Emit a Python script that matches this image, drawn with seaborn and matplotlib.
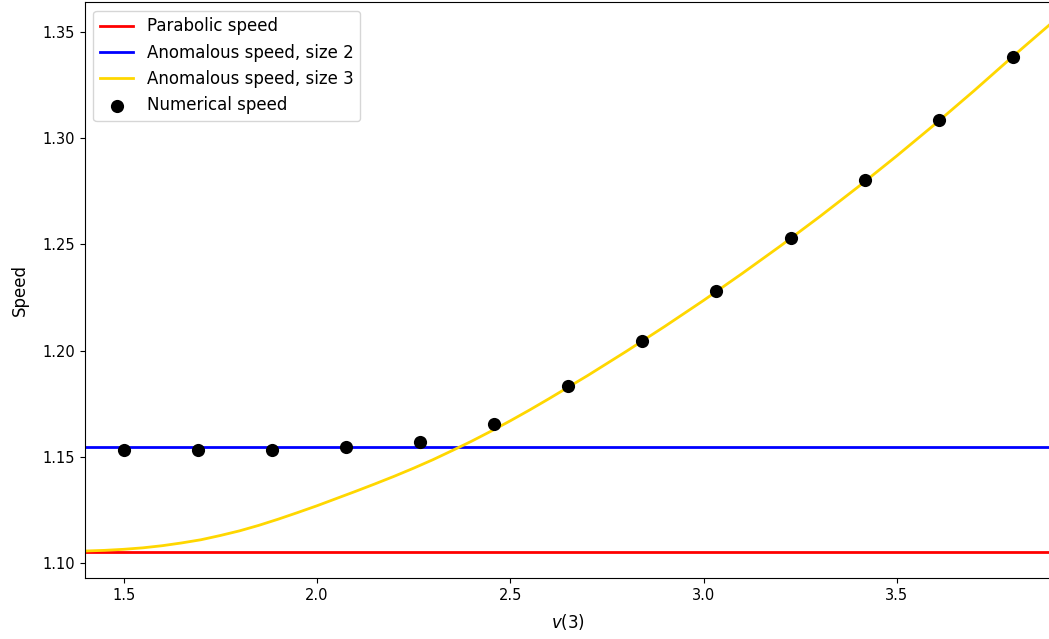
import numpy as np
import matplotlib
matplotlib.use('Agg')
import matplotlib.pyplot as plt
import seaborn as sns

# values
parabolic_speed = 1.1050
anomalous_speed_2 = 1.1547

# anomalous speed, size 3 (curve)
v3_curve = [1.40, 1.45, 1.50, 1.55, 1.60, 1.65, 1.70, 1.75, 1.80, 1.85, 1.90, 1.95,
            2.00, 2.05, 2.10, 2.15, 2.20, 2.25, 2.30, 2.35, 2.40, 2.45, 2.50, 2.55,
            2.60, 2.70, 2.80, 2.90, 3.00, 3.10, 3.20, 3.30, 3.40, 3.50, 3.60, 3.70,
            3.80, 3.90]
speed_curve = [1.1056, 1.1059, 1.1064, 1.1071, 1.1081, 1.1094, 1.1109, 1.1129, 1.1151,
               1.1177, 1.1206, 1.1237, 1.1269, 1.1303, 1.1337, 1.1372, 1.1408, 1.1446,
               1.1486, 1.1529, 1.1573, 1.1620, 1.1669, 1.1720, 1.1773, 1.1882, 1.1996,
               1.2114, 1.2236, 1.2363, 1.2494, 1.2630, 1.2771, 1.2917, 1.3068, 1.3224,
               1.3385, 1.3542]

# numerical speed points
v3_num = [1.500, 1.692, 1.883, 2.075, 2.267, 2.458, 2.650, 2.842, 3.033, 3.225, 3.417, 3.608, 3.800]
speed_num = [1.1532, 1.1532, 1.1532, 1.1546, 1.1570, 1.1654, 1.1833, 1.2044, 1.2279,
             1.2532, 1.2802, 1.3084, 1.3384]

fig = plt.figure(figsize=(10.49, 6.39), dpi=100)
ax = fig.add_axes([0.081, 0.0955, 0.9214, 0.9006])

ax.axhline(parabolic_speed, color='red', linewidth=2, label='Parabolic speed')
ax.axhline(anomalous_speed_2, color='blue', linewidth=2, label='Anomalous speed, size 2')
sns.lineplot(x=v3_curve, y=speed_curve, color='gold', linewidth=2, sort=False,
             label='Anomalous speed, size 3', ax=ax)
sns.scatterplot(x=v3_num, y=speed_num, color='black', s=90, linewidth=0,
                label='Numerical speed', ax=ax, zorder=3)

ax.set_xlim(1.4, 3.9)
ax.set_ylim(1.0929, 1.3639)
ax.set_xticks([1.5, 2.0, 2.5, 3.0, 3.5])
ax.set_yticks([1.10, 1.15, 1.20, 1.25, 1.30, 1.35])
ax.tick_params(labelsize=10.5)
ax.set_xlabel('$v(3)$', fontsize=12, labelpad=7)
ax.set_ylabel('Speed', fontsize=12, labelpad=10)
ax.legend(loc='upper left', fontsize=12)

fig.savefig('out.png', dpi=100)
